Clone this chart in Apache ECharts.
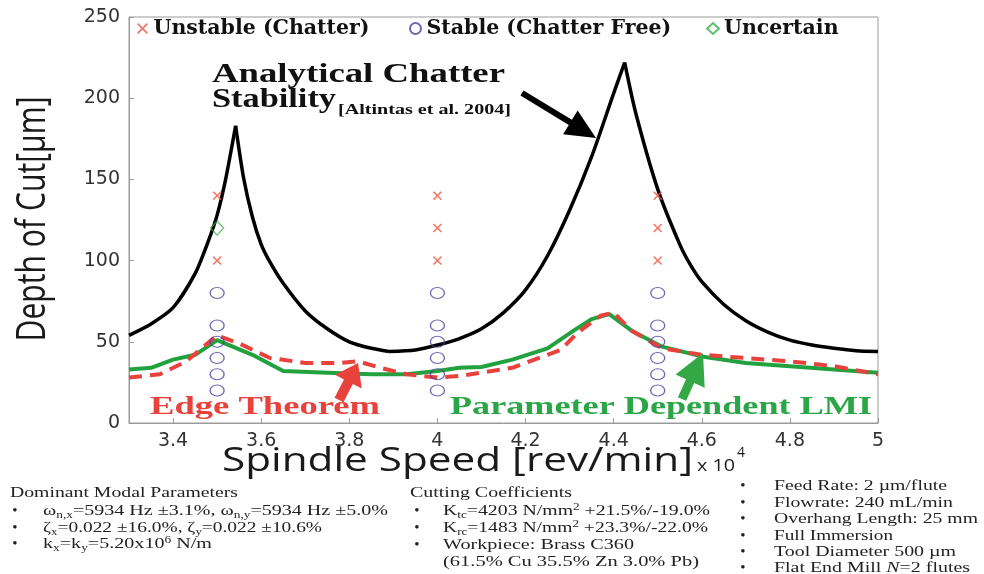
<!DOCTYPE html>
<html><head><meta charset="utf-8">
<script src="https://cdn.jsdelivr.net/npm/echarts@6/dist/echarts.min.js"></script>
<style>html,body{margin:0;padding:0;background:#fff}#c{width:984px;height:574px}</style>
</head><body><div id="c"></div>
<script>
// ---- data (spindle speed in units of 10^4 rev/min, depth of cut in µm) ----
const xTickValues = [3.4, 3.6, 3.8, 4, 4.2, 4.4, 4.6, 4.8, 5];
const analyticalLobe1Rise = [[3.30,54],[3.35,61],[3.40,71],[3.45,92],[3.48,112],[3.50,128],[3.52,151],[3.542,183]];
const analyticalLobe1Fall = [[3.542,183],[3.56,151],[3.58,127],[3.60,110],[3.62,99],[3.65,86],[3.70,69],[3.75,58],[3.80,50],[3.85,46],[3.89,44]];
const analyticalLobe2Rise = [[3.89,44],[3.95,45],[4.00,48],[4.05,52],[4.10,58],[4.15,68],[4.20,82],[4.25,103],[4.30,131],[4.35,164],[4.40,203],[4.425,222]];
const analyticalLobe2Fall = [[4.425,222],[4.45,191],[4.50,144],[4.55,110],[4.575,97],[4.60,87],[4.65,73],[4.70,63],[4.75,56],[4.80,51],[4.85,48],[4.90,46],[4.95,44.5],[5.00,44]];
const lmiBoundary = [[3.30,33],[3.35,34],[3.40,39],[3.45,42],[3.50,51],[3.58,42],[3.65,32],[3.75,31],[3.85,30],[3.93,30],[4.00,32],[4.05,34],[4.10,34.5],[4.17,39],[4.25,46],[4.31,57],[4.35,64],[4.39,67],[4.44,57],[4.51,47],[4.60,41],[4.70,37],[4.80,35],[4.90,33],[5.00,31]];
const edgeBoundary = [[3.30,28],[3.37,30],[3.43,38],[3.50,54],[3.55,49],[3.62,40],[3.70,37],[3.78,37],[3.82,38],[3.87,34],[3.93,30],[4.00,28],[4.05,29],[4.10,31],[4.17,34],[4.22,39],[4.28,45],[4.32,56],[4.37,66],[4.40,68],[4.44,57],[4.51,46],[4.60,42],[4.70,40],[4.80,38],[4.90,35],[5.00,30]];
const unstablePts = [[3.5,140],[3.5,100],[4,140],[4,120],[4,100],[4.5,140],[4.5,120],[4.5,100]];
const stablePts = [[3.5,80],[3.5,60],[3.5,50],[3.5,40],[3.5,30],[3.5,20],[4,80],[4,60],[4,50],[4,40],[4,30],[4,20],[4.5,80],[4.5,60],[4.5,50],[4.5,40],[4.5,30],[4.5,20]];
const uncertainPts = [[3.5,120]];

const col1Lines = ['{t|ω}{s|n,x}{t|=5934 Hz ±3.1%, ω}{s|n,y}{t|=5934 Hz ±5.0%}', '{t|ζ}{s|x}{t|=0.022 ±16.0%, ζ}{s|y}{t|=0.022 ±10.6%}', '{t|k}{s|x}{t|=k}{s|y}{t|=5.20x10}{p|6}{t| N/m}'];
const col2Lines = ['{t|K}{s|tc}{t|=4203 N/mm}{p|2}{t| +21.5%/-19.0%}', '{t|K}{s|rc}{t|=1483 N/mm}{p|2}{t| +23.3%/-22.0%}', '{t|Workpiece: Brass C360}', '{t|(61.5% Cu 35.5% Zn 3.0% Pb)}'];
const col3Lines = ['{t|Feed Rate: 2 µm/flute}', '{t|Flowrate: 240 mL/min}', '{t|Overhang Length: 25 mm}', '{t|Full Immersion}', '{t|Tool Diameter 500 µm}', '{t|Flat End Mill }{i|N}{t|=2 flutes}'];

// ---- styling / layout helpers ----
const SERIF = '"Liberation Serif", "Times New Roman", serif';
const mctx = document.createElement('canvas').getContext('2d');
function measure(text, size, family, weight, style) {
  mctx.font = (style || 'normal') + ' ' + (weight || 'normal') + ' ' + size + 'px ' + family;
  return mctx.measureText(text).width;
}
const richDef = {
  t: { fontSize: 15, fontFamily: SERIF, fill: '#222', lineHeight: 18 },
  s: { fontSize: 10, fontFamily: SERIF, fill: '#222', lineHeight: 18, verticalAlign: 'bottom' },
  p: { fontSize: 10, fontFamily: SERIF, fill: '#222', lineHeight: 18, verticalAlign: 'top' },
  i: { fontSize: 15, fontFamily: SERIF, fill: '#222', lineHeight: 18, fontStyle: 'italic' }
};
function richWidth(str) {
  let w = 0; const re = /\{(\w)\|([^}]*)\}/g; let m;
  while ((m = re.exec(str))) { const d = richDef[m[1]]; w += measure(m[2], d.fontSize, d.fontFamily, 'normal', d.fontStyle); }
  return w;
}
function richText(str, x, y, targetW) {
  return { type: 'text', x: x, y: y, scaleX: targetW / richWidth(str), z: 50,
    style: { text: str, rich: richDef, align: 'left', verticalAlign: 'middle', fontFamily: SERIF, fontSize: 15, fill: '#222' } };
}
function fitText(text, x, y, targetW, size, family, weight, color, extra) {
  const el = { type: 'text', x: x, y: y, scaleX: targetW / measure(text, size, family, weight), z: 50,
    style: { text: text, fontSize: size, fontFamily: family, fontWeight: weight, fill: color, align: 'left', verticalAlign: 'middle' } };
  return Object.assign(el, extra || {});
}
function bullet(x, y) {
  return { type: 'text', x: x, y: y, z: 50, style: { text: '•', fontSize: 15, fontFamily: SERIF, fill: '#222', align: 'center', verticalAlign: 'middle' } };
}
function arrow(tail, tip, shaftW, headL, headW, color) {
  const dx = tip[0] - tail[0], dy = tip[1] - tail[1];
  const L = Math.hypot(dx, dy), ux = dx / L, uy = dy / L, nx = -uy, ny = ux;
  const bx = tip[0] - ux * headL, by = tip[1] - uy * headL;
  return { type: 'polygon', z: 60, style: { fill: color },
    shape: { points: [
      [tail[0] + nx * shaftW / 2, tail[1] + ny * shaftW / 2],
      [bx + nx * shaftW / 2, by + ny * shaftW / 2],
      [bx + nx * headW / 2, by + ny * headW / 2],
      tip,
      [bx - nx * headW / 2, by - ny * headW / 2],
      [bx - nx * shaftW / 2, by - ny * shaftW / 2],
      [tail[0] - nx * shaftW / 2, tail[1] - ny * shaftW / 2]] } };
}

const RED = '#e8423c', GREEN = '#22a23e', BLUE = '#4a40a2';
const crossPath = 'path://M0,1.2L1.2,0L5,3.8L8.8,0L10,1.2L6.2,5L10,8.8L8.8,10L5,6.2L1.2,10L0,8.8L3.8,5Z';

const lineBase = { type: 'line', symbol: 'none', showSymbol: false, silent: true, animation: false };
function blackSeg(d) { return Object.assign({}, lineBase, { name: 'Analytical', data: d, smooth: 0.25, z: 3, lineStyle: { color: '#000', width: 3.5, join: 'round' } }); }

const graphics = [];
// annotations
graphics.push(fitText('Analytical Chatter', 212, 75, 293, 28, SERIF, 'bold', '#111'));
graphics.push(fitText('Stability', 212, 100, 124, 28, SERIF, 'bold', '#111'));
graphics.push(fitText('[Altintas et al. 2004]', 338, 110, 173, 14, SERIF, 'bold', '#111'));
graphics.push(fitText('Edge Theorem', 150, 407, 230, 26, SERIF, 'bold', RED));
graphics.push(fitText('Parameter Dependent LMI', 450, 407, 422, 26, SERIF, 'bold', '#2aa647'));
graphics.push(arrow([522, 93], [596, 138], 6, 30, 28, '#000'));
graphics.push(arrow([339, 400], [358, 363], 10, 21, 30, RED));
graphics.push(arrow([682, 399], [703, 353], 9, 31, 32, '#33a845'));
// axis titles
graphics.push(fitText('Spindle Speed [rev/min]', 222, 462, 471, 33, '"Open Sans", sans-serif', 'normal', '#1a1a1a'));
graphics.push(fitText('x 10', 697, 466, 38, 16, '"Open Sans", sans-serif', 'normal', '#1a1a1a'));
graphics.push(fitText('4', 737, 453, 8, 15, '"Open Sans", sans-serif', 'normal', '#1a1a1a'));
(function () {
  const t = 'Depth of Cut[µm]';
  const w = measure(t, 30, '"Open Sans", sans-serif', 'normal');
  graphics.push({ type: 'text', x: 33, y: 219, rotation: Math.PI / 2, scaleX: 245 / w, scaleY: 1.35, z: 50,
    style: { text: t, fontSize: 30, fontFamily: '"Open Sans", sans-serif', fill: '#1a1a1a', align: 'center', verticalAlign: 'middle' } });
})();
// bottom notes
graphics.push(fitText('Dominant Modal Parameters', 10, 493, 228, 15, SERIF, 'normal', '#222'));
const c1y = [511, 528, 544], c1w = [345, 279, 169];
col1Lines.forEach((s, i) => { graphics.push(bullet(15, c1y[i])); graphics.push(richText(s, 43, c1y[i], c1w[i])); });
graphics.push(fitText('Cutting Coefficients', 410, 493, 162, 15, SERIF, 'normal', '#222'));
const c2y = [511, 528, 545, 562], c2w = [267, 265, 191, 256];
col2Lines.forEach((s, i) => { if (i < 3) graphics.push(bullet(417, c2y[i])); graphics.push(richText(s, 443, c2y[i], c2w[i])); });
const c3y = [486, 503, 519, 536, 552, 568], c3w = [173, 179, 204, 119, 182, 196];
col3Lines.forEach((s, i) => { graphics.push(bullet(743, c3y[i])); graphics.push(richText(s, 774, c3y[i], c3w[i])); });

const legendText = { fontFamily: '"DejaVu Serif", serif', fontWeight: 'bold', fontSize: 20.5, color: '#111' };
const legendBase = { orient: 'horizontal', itemWidth: 12, itemHeight: 11, itemGap: 10, textStyle: legendText, top: 18, padding: 0, selectedMode: false };

const option = {
  animation: false,
  backgroundColor: '#fff',
  grid: { left: 129, top: 17, width: 749, height: 406, show: true, borderColor: '#9a9a9a', borderWidth: 1, backgroundColor: 'transparent' },
  legend: [
    Object.assign({}, legendBase, { left: 137, data: ['Unstable (Chatter)'] }),
    Object.assign({}, legendBase, { left: 409, data: ['Stable (Chatter Free)'] }),
    Object.assign({}, legendBase, { left: 706, data: ['Uncertain'] })
  ],
  xAxis: {
    type: 'value', min: 3.3, max: 5,
    axisLine: { show: true, onZero: false, lineStyle: { color: '#9a9a9a', width: 1 } },
    axisTick: { show: true, inside: true, length: 5, customValues: xTickValues, lineStyle: { color: '#9a9a9a' } },
    axisLabel: { customValues: xTickValues, margin: 9, fontSize: 19, fontFamily: '"DejaVu Sans", sans-serif', color: '#333',
      formatter: v => String(Math.round(v * 10) / 10) },
    splitLine: { show: false }
  },
  yAxis: {
    type: 'value', min: 0, max: 250, interval: 50,
    axisLine: { show: true, lineStyle: { color: '#9a9a9a', width: 1 } },
    axisTick: { show: true, inside: true, length: 5, lineStyle: { color: '#9a9a9a' } },
    axisLabel: { margin: 9, fontSize: 19, fontFamily: '"DejaVu Sans", sans-serif', color: '#333' },
    splitLine: { show: false }
  },
  series: [
    blackSeg(analyticalLobe1Rise), blackSeg(analyticalLobe1Fall), blackSeg(analyticalLobe2Rise), blackSeg(analyticalLobe2Fall),
    Object.assign({}, lineBase, { name: 'Parameter Dependent LMI', data: lmiBoundary, z: 4, lineStyle: { color: GREEN, width: 4 } }),
    Object.assign({}, lineBase, { name: 'Edge Theorem', data: edgeBoundary, z: 5, lineStyle: { color: RED, width: 4, type: [13, 8] } }),
    { type: 'scatter', name: 'Unstable (Chatter)', data: unstablePts, symbol: crossPath, symbolSize: 9, z: 10, itemStyle: { color: '#ee5a46' } },
    { type: 'scatter', name: 'Stable (Chatter Free)', data: stablePts, symbol: 'circle', symbolSize: [14, 11], z: 10,
      itemStyle: { color: 'rgba(255,255,255,0)', borderColor: BLUE, borderWidth: 1.2 } },
    { type: 'scatter', name: 'Uncertain', data: uncertainPts, symbol: 'diamond', symbolSize: [13, 14], z: 10,
      itemStyle: { color: 'rgba(255,255,255,0)', borderColor: '#3aae4a', borderWidth: 1.3 } }
  ],
  graphic: graphics
};
const chart = echarts.init(document.getElementById('c'));
chart.setOption(option);
</script>
</body></html>
